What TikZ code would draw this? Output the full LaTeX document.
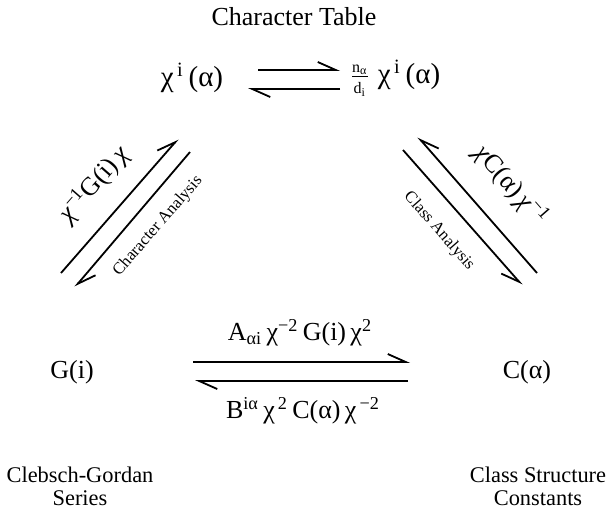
\documentclass[tikz,border=0pt]{standalone}
\usepackage{fontspec}
\setmainfont{Liberation Serif}
\usetikzlibrary{arrows.meta}
\tikzset{
  harp left/.style={line width=0.9pt, -{Straight Barb[left, length=9pt, width=8pt]}},
  harp right/.style={line width=0.9pt, -{Straight Barb[right, length=9pt, width=8pt]}},
  term/.style={font=\fontsize{13}{15}\selectfont, inner sep=1pt},
  big term/.style={font=\fontsize{14.5}{16}\selectfont, inner sep=1pt},
  caption/.style={font=\fontsize{11.2}{11.5}\selectfont, align=center, inner sep=1pt},
  tag/.style={font=\fontsize{8.3}{10}\selectfont, inner sep=1pt},
}

\begin{document}
\begin{tikzpicture}[x=0.5pt, y=-0.5pt]
  \useasboundingbox (0,0) rectangle (608,511);
  \node[term] (title) at (294,17) {Character Table};
  \node[big term] (chiL) at (192,78) {χ\textsuperscript{\,i}\,(α)};
  \node[big term] (chiR) at (395,78)
    {$\frac{\mbox{\fontsize{8}{9}\selectfont n\textsubscript{α}}}{\mbox{\fontsize{8}{9}\selectfont d\textsubscript{i}}}$\;χ\textsuperscript{\,i}\,(α)};
  \node[term] (Gi) at (72,372) {G(i)};
  \node[term] (Ca) at (527,372) {C(α)};
  \node[caption] (cg) at (80,486) {Clebsch-Gordan\\Series};
  \node[caption] (cs) at (538,486) {Class Structure\\Constants};

  \coordinate (t1) at (258,70);  \coordinate (t2) at (340,70);
  \coordinate (t3) at (340,89);  \coordinate (t4) at (248,89);
  \draw[harp left] (t1) -- (t2);
  \draw[harp left] (t3) -- (t4);

  \coordinate (b1) at (193,362); \coordinate (b2) at (410,362);
  \coordinate (b3) at (408,381); \coordinate (b4) at (195,381);
  \draw[harp left] (b1) -- (b2);
  \draw[harp left] (b3) -- (b4);
  \node[term] (Aterm) at (300,333) {A\textsubscript{αi}\,χ\textsuperscript{−2}\,G(i)\,χ\textsuperscript{2}};
  \node[term] (Bterm) at (303,411) {B\textsuperscript{iα}\,χ\textsuperscript{\,2}\,C(α)\,χ\textsuperscript{\,−2}};

  \coordinate (l1) at (61,273);  \coordinate (l2) at (178,139);
  \coordinate (l3) at (190,152); \coordinate (l4) at (75,287);
  \draw[harp left] (l1) -- (l2);
  \draw[harp left] (l3) -- (l4);
  \node[term, rotate=48.9] (lblL) at (94,184) {\textit{χ}\textsuperscript{−1}G(i)\,\textit{χ}};
  \node[tag, rotate=48.9] (tagL) at (158,226) {Character Analysis};

  \coordinate (r1) at (537,273); \coordinate (r2) at (418,137);
  \coordinate (r3) at (403,150); \coordinate (r4) at (522,285);
  \draw[harp right] (r1) -- (r2);
  \draw[harp right] (r3) -- (r4);
  \node[term, rotate=-48.8] (lblR) at (511,185) {\textit{χ}C(α)\,\textit{χ}\textsuperscript{−1}};
  \node[tag, rotate=-48.8] (tagR) at (439,231) {Class Analysis};
\end{tikzpicture}
\end{document}
